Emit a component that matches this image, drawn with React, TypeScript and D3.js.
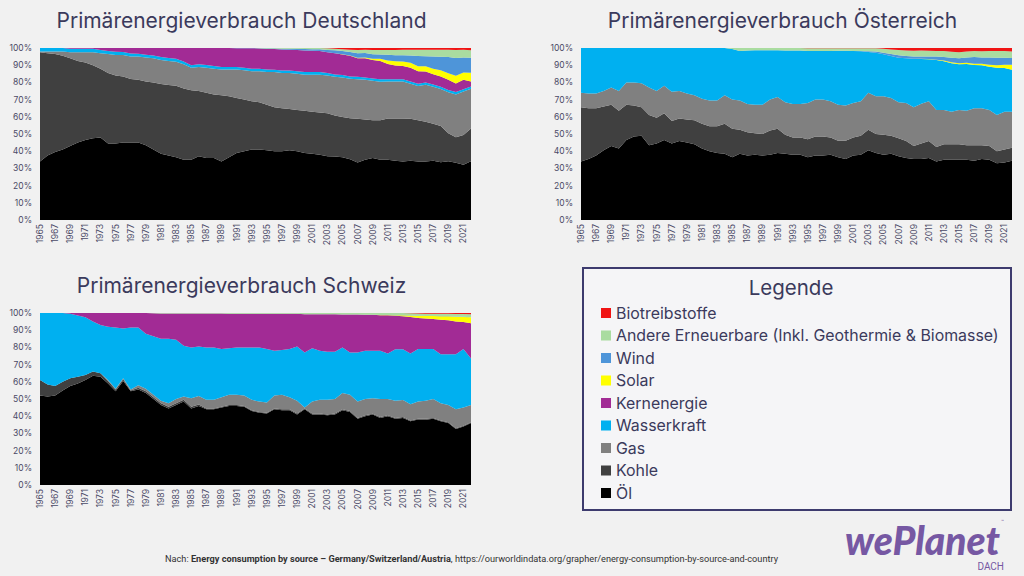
import { area, format, scaleLinear, stack, stackOffsetExpand } from "d3";

// Jahre (x-Achse)
const YEARS = [
  1965, 1966, 1967, 1968, 1969, 1970, 1971, 1972, 1973, 1974,
  1975, 1976, 1977, 1978, 1979, 1980, 1981, 1982, 1983, 1984,
  1985, 1986, 1987, 1988, 1989, 1990, 1991, 1992, 1993, 1994,
  1995, 1996, 1997, 1998, 1999, 2000, 2001, 2002, 2003, 2004,
  2005, 2006, 2007, 2008, 2009, 2010, 2011, 2012, 2013, 2014,
  2015, 2016, 2017, 2018, 2019, 2020, 2021, 2022,
];

// Reihenfolge von unten nach oben
const KEYS = ["oel", "kohle", "gas", "wasser", "kern", "solar", "wind", "andere", "bio"];

const COLORS: Record<string, string> = {
  bio: "#f01414",
  andere: "#aadca0",
  wind: "#4e95d9",
  solar: "#ffff00",
  kern: "#a22b95",
  wasser: "#00b0f0",
  gas: "#808080",
  kohle: "#404040",
  oel: "#000000",
};

const LEGEND_KEYS = ["bio", "andere", "wind", "solar", "kern", "wasser", "gas", "kohle", "oel"];
const LEGEND_LABELS = [
  "Biotreibstoffe",
  "Andere Erneuerbare (Inkl. Geothermie & Biomasse)",
  "Wind",
  "Solar",
  "Kernenergie",
  "Wasserkraft",
  "Gas",
  "Kohle",
  "Öl",
];

// --- Deutschland (Anteile in %) ---
const DE_OEL = [
  34, 37.5, 39.5, 41, 43, 45, 46.5, 47.5, 48, 44.5,
  44.5, 45, 45, 45, 43.5, 41, 38.5, 37.5, 36.5, 35,
  35, 37, 36, 36, 34, 36.5, 39, 40, 41, 41,
  40.5, 40, 40, 40.5, 40, 39, 38.5, 38, 37, 37,
  36.5, 35.5, 33.5, 35, 36, 35, 35, 34.5, 34, 34.5,
  34, 34, 34.5, 33.5, 34.5, 33.5, 32.5, 34,
];
const DE_KOHLE = [
  63.5, 59.5, 57, 54.5, 51, 47.5, 45, 42.5, 40, 41,
  39.5, 38.5, 37, 36.5, 37, 39, 40.5, 41, 41.5, 41.5,
  40.5, 38, 38, 37, 38.5, 35.5, 32, 30, 28, 27.5,
  26.5, 25.5, 25, 24, 24, 24.5, 24.5, 24.5, 25, 24,
  23.5, 24, 25.5, 23.5, 22, 23, 24, 24.5, 25, 24.5,
  24, 23, 21.5, 21, 16.5, 15, 17.5, 19,
];
const DE_GAS = [
  0.5, 1, 1.5, 2.5, 3.5, 5, 6, 7.5, 9, 11,
  12, 12.5, 13, 13.5, 14, 14, 14, 14, 14, 14,
  13, 14, 14.5, 15, 15, 15.5, 16.5, 17, 17.5, 18,
  19, 20.5, 20.5, 21, 21, 21, 21.5, 22, 22, 22.5,
  23, 23, 23, 23, 23, 22.5, 21.5, 21.5, 21.5, 20.5,
  20, 21.5, 21.5, 21.5, 24, 25, 25.5, 23,
];
const DE_WASSER = [
  2, 2, 2, 2, 2, 2, 2, 2, 1.8, 1.8,
  1.8, 1.7, 1.8, 1.7, 1.6, 1.7, 1.7, 1.7, 1.7, 1.6,
  1.5, 1.5, 1.6, 1.6, 1.5, 1.5, 1.4, 1.5, 1.5, 1.5,
  1.5, 1.4, 1.4, 1.4, 1.5, 1.5, 1.6, 1.6, 1.4, 1.4,
  1.4, 1.4, 1.4, 1.4, 1.3, 1.4, 1.2, 1.3, 1.4, 1.3,
  1.3, 1.3, 1.4, 1.3, 1.4, 1.5, 1.4, 1.3,
];
const DE_KERN = [
  0, 0, 0, 0, 0.5, 0.5, 0.5, 0.5, 1.2, 1.7,
  2.2, 2.3, 3.2, 3.3, 3.9, 4.3, 5.3, 5.8, 6.3, 7.9,
  10, 9.5, 9.9, 10.4, 11, 11, 11, 11.4, 11.9, 11.7,
  11.9, 12, 12.3, 12.1, 12.4, 12.6, 12.3, 12.1, 12.1, 12.3,
  12, 12, 10.8, 11.1, 10.7, 10.7, 8.9, 8, 7.7, 8,
  7.2, 6.5, 5.9, 6, 6, 5, 5.5, 2.9,
];
const DE_SOLAR = [
  0, 0, 0, 0, 0, 0, 0, 0, 0, 0,
  0, 0, 0, 0, 0, 0, 0, 0, 0, 0,
  0, 0, 0, 0, 0, 0, 0, 0, 0, 0,
  0, 0, 0, 0, 0, 0, 0, 0, 0, 0.1,
  0.1, 0.2, 0.3, 0.5, 0.8, 1.2, 2.0, 2.5, 2.6, 2.9,
  3.0, 3.0, 3.2, 3.6, 3.8, 4.5, 4.3, 5.1,
];
const DE_WIND = [
  0, 0, 0, 0, 0, 0, 0, 0, 0, 0,
  0, 0, 0, 0, 0, 0, 0, 0, 0, 0,
  0, 0, 0, 0, 0, 0, 0.1, 0.1, 0.1, 0.2,
  0.3, 0.3, 0.4, 0.5, 0.6, 0.8, 0.9, 1.1, 1.4, 1.7,
  1.9, 2.1, 2.7, 2.6, 2.6, 2.5, 3.4, 3.5, 3.6, 4.2,
  6.0, 5.8, 7.2, 7.8, 9.5, 10.5, 8.8, 8.7,
];
const DE_ANDERE = [
  0, 0, 0, 0, 0, 0, 0, 0, 0, 0,
  0, 0, 0, 0, 0, 0, 0, 0, 0, 0,
  0, 0, 0, 0, 0, 0, 0, 0, 0, 0.1,
  0.3, 0.3, 0.4, 0.5, 0.5, 0.6, 0.7, 0.7, 0.9, 0.9,
  1.1, 1.3, 1.8, 1.9, 2.5, 2.7, 2.8, 3.1, 3.2, 3.4,
  3.6, 3.8, 3.9, 4.1, 4.3, 4.7, 4.6, 4.3,
];
const DE_BIO = [
  0, 0, 0, 0, 0, 0, 0, 0, 0, 0,
  0, 0, 0, 0, 0, 0, 0, 0, 0, 0,
  0, 0, 0, 0, 0, 0, 0, 0, 0, 0,
  0, 0, 0, 0, 0, 0, 0, 0, 0.2, 0.4,
  0.7, 1.0, 1.2, 1.0, 1.1, 1.1, 1.1, 1.1, 1.0, 1.0,
  1.0, 1.0, 1.0, 1.0, 1.0, 1.1, 1.0, 1.3,
];

// --- Österreich ---
const AT_OEL = [
  34, 35.5, 37.5, 40.5, 43, 41.5, 46.5, 48.5, 49, 43.5,
  44.5, 46.5, 44.5, 46, 45, 44, 41.5, 40, 39, 38.5,
  36.5, 38.5, 37.5, 38, 37.5, 38, 39, 38.5, 38, 38,
  36.5, 37.5, 37.5, 38, 36.5, 35.5, 37.5, 38, 40.5, 39,
  38, 38.5, 37, 36, 35.5, 35.5, 36, 34, 35, 35,
  35, 35, 34.5, 35.5, 35, 33, 33.5, 34.5,
];
const AT_KOHLE = [
  31.5, 29.5, 27.5, 25.5, 24, 22, 20.5, 18, 16.5, 17.5,
  15, 15.5, 13, 13, 13.5, 14, 14.5, 14.5, 15.5, 17.5,
  16.5, 14, 13.5, 12.5, 12.5, 14, 14, 11, 10, 10,
  10.5, 11, 11, 10, 9.5, 10.5, 10.5, 11, 12, 11,
  11.5, 10.5, 10.5, 10, 7.5, 9, 10, 8.5, 9, 9,
  9, 8.5, 9, 8, 8, 7, 7.5, 7.5,
];
const AT_GAS = [
  8.5, 8.5, 8.5, 9, 10, 11.5, 13, 13.5, 14, 16,
  15.5, 16, 17, 16, 15, 14.5, 14.5, 15, 15, 16.5,
  17, 17, 16.5, 16.5, 17, 18, 18.5, 19, 19.5, 19.5,
  21, 21.5, 21.5, 21, 21, 20.5, 20, 20, 21.5, 22,
  22.5, 22, 21, 22, 22.5, 23, 23, 21.5, 20, 19,
  20, 20, 21.5, 21.5, 21, 21, 22, 21,
];
const AT_WASSER = [
  26, 26.5, 26.5, 25, 23, 25, 20, 20, 20.5, 23,
  25, 22, 25.5, 25, 26.5, 27.5, 29.5, 30.5, 30.5, 27.5,
  29.4, 28.7, 31.1, 31.7, 31.7, 28.7, 27.2, 30.1, 31.1, 31,
  30.2, 28.2, 28.2, 29.3, 31.3, 31.8, 30.2, 29.1, 23.7, 25.2,
  24.3, 24.3, 25.9, 26, 28.2, 26.1, 24.5, 29, 28.3, 28.2,
  26.6, 27.2, 25.1, 24.9, 25.1, 27.5, 25.3, 24.4,
];
const AT_KERN = [
  0, 0, 0, 0, 0, 0, 0, 0, 0, 0,
  0, 0, 0, 0, 0, 0, 0, 0, 0, 0,
  0, 0, 0, 0, 0, 0, 0, 0, 0, 0,
  0, 0, 0, 0, 0, 0, 0, 0, 0, 0,
  0, 0, 0, 0, 0, 0, 0, 0, 0, 0,
  0, 0, 0, 0, 0, 0, 0, 0,
];
const AT_SOLAR = [
  0, 0, 0, 0, 0, 0, 0, 0, 0, 0,
  0, 0, 0, 0, 0, 0, 0, 0, 0, 0,
  0, 0, 0, 0, 0, 0, 0, 0, 0, 0,
  0, 0, 0, 0, 0, 0, 0, 0, 0, 0,
  0, 0, 0, 0, 0, 0.05, 0.1, 0.2, 0.4, 0.5,
  0.6, 0.7, 0.8, 1.0, 1.2, 1.5, 1.9, 2.8,
];
const AT_WIND = [
  0, 0, 0, 0, 0, 0, 0, 0, 0, 0,
  0, 0, 0, 0, 0, 0, 0, 0, 0, 0,
  0, 0, 0, 0, 0, 0, 0, 0, 0, 0,
  0, 0, 0, 0, 0.05, 0.05, 0.1, 0.2, 0.4, 0.7,
  1.0, 1.2, 1.4, 1.4, 1.4, 1.4, 1.4, 1.8, 2.1, 2.6,
  2.9, 3.1, 3.8, 3.6, 4.2, 4.4, 4.2, 4.0,
];
const AT_ANDERE = [
  0, 0, 0, 0, 0, 0, 0, 0, 0, 0,
  0, 0, 0, 0, 0, 0, 0, 0, 0, 0,
  0.6, 1.8, 1.4, 1.3, 1.3, 1.3, 1.3, 1.4, 1.4, 1.5,
  1.6, 1.6, 1.6, 1.5, 1.4, 1.4, 1.5, 1.5, 1.7, 1.9,
  2.3, 2.7, 3.0, 3.1, 3.3, 3.4, 3.4, 3.3, 3.4, 3.5,
  3.5, 3.5, 3.5, 3.6, 3.7, 3.8, 3.8, 3.8,
];
const AT_BIO = [
  0, 0, 0, 0, 0, 0, 0, 0, 0, 0,
  0, 0, 0, 0, 0, 0, 0, 0, 0, 0,
  0, 0, 0, 0, 0, 0, 0, 0, 0, 0,
  0.2, 0.2, 0.2, 0.2, 0.2, 0.2, 0.2, 0.2, 0.2, 0.2,
  0.4, 0.8, 1.2, 1.5, 1.6, 1.5, 1.6, 1.7, 1.8, 2.2,
  2.4, 2.0, 1.8, 1.9, 1.8, 1.8, 1.8, 2.0,
];

// --- Schweiz ---
const CH_OEL = [
  52, 51.5, 52, 55, 57.5, 59, 61, 63.5, 63, 59,
  54.5, 60.5, 54.5, 55.5, 53.5, 50, 46.5, 44.5, 46.5, 48.5,
  44.5, 46, 44, 44, 45, 46, 46, 45.5, 43, 42,
  41.5, 44, 43.5, 43.5, 41, 44, 41, 41, 40.5, 41,
  43.5, 42.5, 38.5, 40, 41, 39, 40, 38.5, 39, 37,
  38, 38, 38.5, 37, 36, 32.5, 34, 36,
];
const CH_KOHLE = [
  9, 7, 5.5, 5, 4.5, 4, 3, 2.5, 2, 1.5,
  1, 1, 0.5, 1, 1, 1, 1, 1, 1, 1,
  1, 0.8, 0.5, 0.5, 0.5, 0.5, 0.5, 0.5, 0.5, 0.5,
  0.5, 0.5, 0.5, 0.5, 0.5, 0.5, 0.5, 0.5, 0.5, 0.5,
  0.5, 0.5, 0.5, 0.5, 0.5, 0.5, 0.5, 0.5, 0.5, 0.5,
  0.5, 0.5, 0.5, 0.5, 0.5, 0.5, 0.5, 0.5,
];
const CH_GAS = [
  0, 0, 0, 0, 0, 0, 0, 0, 0, 0.5,
  0.5, 0.5, 0.5, 1.5, 1.5, 1.5, 1.5, 2, 2.5, 2,
  5, 5, 5, 5, 5.5, 6, 6, 6, 6, 6,
  6, 7.5, 8.5, 7, 7.5, 0.5, 7, 8, 8.5, 8.5,
  9.5, 9.5, 9.5, 9.5, 9, 10.5, 9.5, 10, 10, 9.5,
  10, 10.5, 11, 10, 10, 11, 10.5, 10,
];
const CH_WASSER = [
  39, 41.5, 42.5, 40, 37.5, 35.5, 33.5, 29, 28, 31,
  35.5, 29, 36, 33.5, 32, 34, 36, 37.5, 34.5, 29.5,
  29.5, 28.7, 30.5, 30.5, 28, 27, 27.5, 28, 30.5, 31.5,
  31, 26, 26, 28, 31.5, 32, 31, 28.5, 28, 27.5,
  26.5, 24.5, 28.5, 28, 27.5, 28, 26.5, 30, 29.5, 29.5,
  30.5, 30, 29, 28.5, 29.5, 32, 34, 27,
];
const CH_KERN = [
  0, 0, 0, 0, 0.5, 1.5, 2.5, 5, 7, 8,
  8.5, 9, 8.5, 8.5, 12, 13.3, 14.7, 14.7, 15.2, 18.7,
  19.7, 19.2, 19.7, 19.7, 20.7, 20, 19.5, 19.5, 19.5, 19.5,
  20.5, 21.5, 21, 20.5, 19, 22.3, 19.8, 21.3, 21.8, 21.8,
  19.1, 22.1, 22.1, 21, 21, 20.7, 22.1, 19.5, 19.2, 21.2,
  18, 17.8, 17.5, 20.1, 19.8, 19.1, 15.7, 20.5,
];
const CH_SOLAR = [
  0, 0, 0, 0, 0, 0, 0, 0, 0, 0,
  0, 0, 0, 0, 0, 0, 0, 0, 0, 0,
  0, 0, 0, 0, 0, 0, 0, 0, 0, 0,
  0, 0, 0, 0, 0, 0, 0, 0, 0, 0,
  0, 0, 0, 0.05, 0.05, 0.1, 0.2, 0.3, 0.6, 0.9,
  1.2, 1.4, 1.7, 2.0, 2.3, 2.7, 3.0, 3.5,
];
const CH_WIND = [
  0, 0, 0, 0, 0, 0, 0, 0, 0, 0,
  0, 0, 0, 0, 0, 0, 0, 0, 0, 0,
  0, 0, 0, 0, 0, 0, 0, 0, 0, 0,
  0, 0, 0, 0, 0, 0, 0, 0, 0, 0,
  0.02, 0.02, 0.02, 0.02, 0.02, 0.02, 0.02, 0.1, 0.1, 0.1,
  0.1, 0.1, 0.1, 0.1, 0.1, 0.1, 0.1, 0.1,
];
const CH_ANDERE = [
  0, 0, 0, 0, 0, 0, 0, 0, 0, 0,
  0, 0, 0, 0, 0, 0.2, 0.3, 0.3, 0.3, 0.3,
  0.3, 0.3, 0.3, 0.3, 0.3, 0.5, 0.5, 0.5, 0.5, 0.5,
  0.5, 0.5, 0.5, 0.5, 0.5, 0.7, 0.7, 0.7, 0.7, 0.7,
  0.9, 0.9, 0.9, 0.9, 0.9, 1.1, 1.1, 1.1, 1.1, 1.1,
  1.3, 1.3, 1.3, 1.3, 1.3, 1.5, 1.6, 1.7,
];
const CH_BIO = [
  0, 0, 0, 0, 0, 0, 0, 0, 0, 0,
  0, 0, 0, 0, 0, 0, 0, 0, 0, 0,
  0, 0, 0, 0, 0, 0, 0, 0, 0, 0,
  0, 0, 0, 0, 0, 0, 0, 0, 0, 0,
  0, 0, 0, 0.05, 0.05, 0.05, 0.05, 0.05, 0.05, 0.2,
  0.3, 0.4, 0.4, 0.5, 0.5, 0.6, 0.6, 0.7,
];

const TEXT = "#3b3a5c";
const BG = "#f1f1f1";

type Row = { year: number } & Record<string, number>;

const toRows = (cols: number[][]): Row[] =>
  YEARS.map((year, i) => {
    const r: Row = { year } as Row;
    KEYS.forEach((k, j) => {
      r[k] = cols[j][i];
    });
    return r;
  });

const pct = format(".0%");

const StackChart = ({
  title,
  cols,
  left,
  top,
  width,
  height,
}: {
  title: string;
  cols: number[][];
  left: number;
  top: number;
  width: number;
  height: number;
}) => {
  const data = toRows(cols);
  const x = scaleLinear().domain([YEARS[0], YEARS[YEARS.length - 1]]).range([left, left + width]);
  const y = scaleLinear().domain([0, 1]).range([top + height, top]);
  const layers = stack<Row>().keys(KEYS).offset(stackOffsetExpand)(data);
  const shape = area<any>()
    .x((d) => x(d.data.year))
    .y0((d) => y(d[0]))
    .y1((d) => y(d[1]));
  const bottom = top + height;

  return (
    <g>
      {/* Titel sitzt etwas links von der Mitte */}
      <text
        x={left + width / 2 - 14}
        y={top - 20}
        textAnchor="middle"
        fontFamily="Inter, 'Noto Sans', sans-serif"
        fontSize={21}
        fill={TEXT}
      >
        {title}
      </text>
      {layers.map((layer) => (
        <path key={layer.key} d={shape(layer) ?? ""} fill={COLORS[layer.key]} />
      ))}
      {/* y-Achse */}
      {y.ticks(10).map((t) => (
        <text
          key={t}
          x={left - 8}
          y={y(t)}
          dy="0.35em"
          textAnchor="end"
          fontFamily="Inter, sans-serif"
          fontSize={8.5}
          fill="#4a4966"
        >
          {pct(t)}
        </text>
      ))}
      {/* x-Achse */}
      {YEARS.filter((yr) => yr % 2 === 1).map((yr) => (
        <text
          key={yr}
          transform={`translate(${x(yr) + 3},${bottom + 4}) rotate(-90)`}
          textAnchor="end"
          fontFamily="Inter, sans-serif"
          fontSize={8.5}
          fill="#4a4966"
        >
          {yr}
        </text>
      ))}
    </g>
  );
};

const Legend = ({ left, top, width, height }: { left: number; top: number; width: number; height: number }) => (
  <g>
    <rect x={left} y={top} width={width} height={height} fill="#f5f5f7" stroke="#3d3b6e" strokeWidth={2} />
    <text
      x={left + width / 2 - 6}
      y={top + 27}
      textAnchor="middle"
      fontFamily="Inter, sans-serif"
      fontSize={20.5}
      fill={TEXT}
    >
      Legende
    </text>
    {LEGEND_KEYS.map((k, i) => (
      <g key={k} transform={`translate(${left + 18},${top + 45 + i * 22.5})`}>
        <rect x={0} y={-5} width={10} height={10} fill={COLORS[k]} />
        <text x={15} y={0} dy="0.35em" fontFamily="Inter, sans-serif" fontSize={15.9} fill={TEXT}>
          {LEGEND_LABELS[i]}
        </text>
      </g>
    ))}
  </g>
);

export default function App() {
  return (
    <svg
      width={1024}
      height={576}
      style={{ position: "absolute", left: 0, top: 0, display: "block" }}
    >
      <rect width={1024} height={576} fill={BG} />
      <StackChart
        title="Primärenergieverbrauch Deutschland"
        cols={[DE_OEL, DE_KOHLE, DE_GAS, DE_WASSER, DE_KERN, DE_SOLAR, DE_WIND, DE_ANDERE, DE_BIO]}
        left={40}
        top={48}
        width={431}
        height={172}
      />
      <StackChart
        title="Primärenergieverbrauch Österreich"
        cols={[AT_OEL, AT_KOHLE, AT_GAS, AT_WASSER, AT_KERN, AT_SOLAR, AT_WIND, AT_ANDERE, AT_BIO]}
        left={581}
        top={48}
        width={431}
        height={172}
      />
      <StackChart
        title="Primärenergieverbrauch Schweiz"
        cols={[CH_OEL, CH_KOHLE, CH_GAS, CH_WASSER, CH_KERN, CH_SOLAR, CH_WIND, CH_ANDERE, CH_BIO]}
        left={40}
        top={313}
        width={431}
        height={172}
      />
      <Legend left={583} top={268} width={428} height={242} />

      {/* Quelle */}
      <text x={165} y={562} fontFamily="Roboto, sans-serif" fontSize={9.2} fill="#333">
        Nach:{" "}
        <tspan fontWeight="bold">Energy consumption by source – Germany/Switzerland/Austria</tspan>
        , https://ourworldindata.org/grapher/energy-consumption-by-source-and-country
      </text>

      {/* Logo */}
      <text
        x={845}
        y={555}
        fontFamily="Lato, sans-serif"
        fontWeight={900}
        fontStyle="italic"
        fontSize={39}
        fill="#7658a3"
      >
        wePlanet
      </text>
      <text x={1001} y={523} fontFamily="Roboto, sans-serif" fontSize={5} fill="#7658a3">
        ™
      </text>
      <text
        x={1004}
        y={570}
        textAnchor="end"
        fontFamily="Roboto, sans-serif"
        fontSize={10}
        fill="#7658a3"
      >
        DACH
      </text>
    </svg>
  );
}
